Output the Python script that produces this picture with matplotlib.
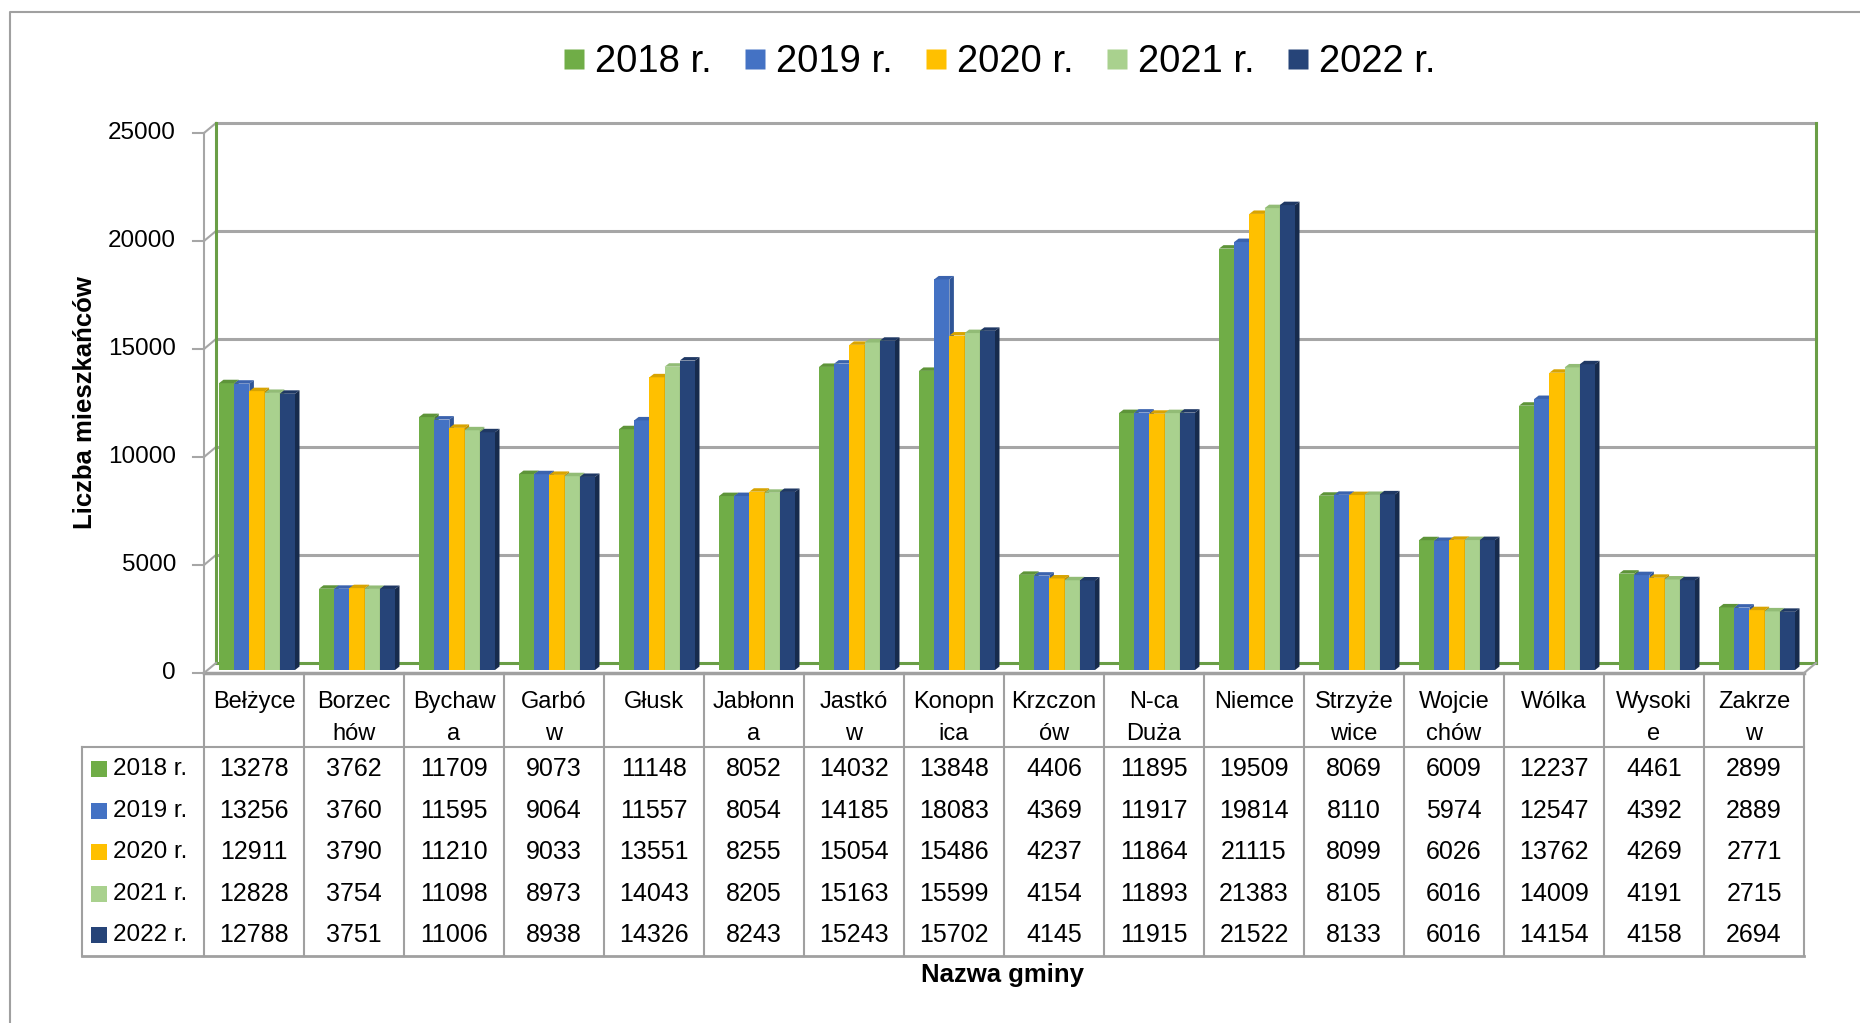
import matplotlib
matplotlib.use("Agg")
import matplotlib.pyplot as plt
from matplotlib.patches import Rectangle, Polygon
from matplotlib.lines import Line2D

plt.rcParams['font.family'] = ['Liberation Sans', 'DejaVu Sans']

# data
gminy = ["Bełżyce", "Borzec\nhów", "Bychaw\na", "Garbó\nw", "Głusk", "Jabłonn\na",
         "Jastkó\nw", "Konopn\nica", "Krzczon\nów", "N-ca\nDuża", "Niemce",
         "Strzyże\nwice", "Wojcie\nchów", "Wólka", "Wysoki\ne", "Zakrze\nw"]
lata = ["2018 r.", "2019 r.", "2020 r.", "2021 r.", "2022 r."]
v2018 = [13278, 3762, 11709, 9073, 11148, 8052, 14032, 13848, 4406, 11895, 19509, 8069, 6009, 12237, 4461, 2899]
v2019 = [13256, 3760, 11595, 9064, 11557, 8054, 14185, 18083, 4369, 11917, 19814, 8110, 5974, 12547, 4392, 2889]
v2020 = [12911, 3790, 11210, 9033, 13551, 8255, 15054, 15486, 4237, 11864, 21115, 8099, 6026, 13762, 4269, 2771]
v2021 = [12828, 3754, 11098, 8973, 14043, 8205, 15163, 15599, 4154, 11893, 21383, 8105, 6016, 14009, 4191, 2715]
v2022 = [12788, 3751, 11006, 8938, 14326, 8243, 15243, 15702, 4145, 11915, 21522, 8133, 6016, 14154, 4158, 2694]
serie = [v2018, v2019, v2020, v2021, v2022]
yticks = [0, 5000, 10000, 15000, 20000, 25000]

kolory = ["#70AD47", "#4472C4", "#FFC000", "#A9D18E", "#264478"]
gora = ["#5E9439", "#3B63AE", "#D9A400", "#92BC76", "#1F3864"]
bok = ["#4E7D30", "#2F5597", "#BF9000", "#7FA866", "#172B4D"]

W, H = 1860, 1023
fig = plt.figure(figsize=(W / 100, H / 100), dpi=100)

# overlay axes in pixel units for table / labels
bg = fig.add_axes([0, 0, 1, 1], zorder=0)
bg.set_xlim(0, W)
bg.set_ylim(H, 0)
bg.axis('off')

# main plot area (front face)
x_left, x_right, y_top, y_zero = 204, 1804, 133, 673
ax = fig.add_axes([x_left / W, 1 - y_zero / H, (x_right - x_left) / W, (y_zero - y_top) / H], zorder=1)
n = len(gminy)
ax.set_xlim(0, n)
ax.set_ylim(0, 25000)
ax.axis('off')

colw = (x_right - x_left) / n
upx = 25000 / (y_zero - y_top)  # data units per pixel
dx = 12 / colw
dy = 10 * upx
grid_c = "#A6A6A6"
green_c = "#6A9E46"

# back wall gridlines
for v in yticks[1:]:
    ax.plot([dx, n + dx], [v + dy, v + dy], color=grid_c, lw=2.2, clip_on=False, zorder=1)
    ax.plot([0, dx], [v, v + dy], color=grid_c, lw=1.5, clip_on=False, zorder=1)
    ax.plot([-0.11, 0], [v, v], color=grid_c, lw=1.5, clip_on=False, zorder=1)
ax.plot([-0.11, 0], [0, 0], color=grid_c, lw=1.5, clip_on=False, zorder=1)
# walls
ax.plot([dx, dx], [dy, 25000 + dy], color=green_c, lw=2.2, clip_on=False, zorder=1)
ax.plot([n + dx, n + dx], [dy, 25000 + dy], color=green_c, lw=2.2, clip_on=False, zorder=1)
ax.plot([dx, n + dx], [dy, dy], color=green_c, lw=2.2, clip_on=False, zorder=1)
ax.plot([0, 0], [0, 25000], color=grid_c, lw=1.5, clip_on=False, zorder=1)
ax.plot([0, dx], [0, dy], color=grid_c, lw=1.5, clip_on=False, zorder=1)
ax.plot([n, n + dx], [0, dy], color=grid_c, lw=1.5, clip_on=False, zorder=1)

for v in yticks:
    ax.text(-0.28, v, str(v), ha='right', va='center', fontsize=17.5, clip_on=False)

# 3D-looking bars (placed slightly into the depth of the box)
bw = 0.152
bdx = 0.045
bdy = 160
base = 3 * upx
z = 3
for i in range(n):
    for j, vals in enumerate(serie):
        v = vals[i] + base
        x0 = i + 0.15 + j * bw
        ax.add_patch(Rectangle((x0, base), bw, vals[i], facecolor=kolory[j], edgecolor='none', zorder=z))
        ax.add_patch(Polygon([(x0, v), (x0 + bdx, v + bdy), (x0 + bw + bdx, v + bdy), (x0 + bw, v)],
                             closed=True, facecolor=gora[j], edgecolor='none', zorder=z))
        ax.add_patch(Polygon([(x0 + bw, base), (x0 + bw + bdx, base + bdy), (x0 + bw + bdx, v + bdy), (x0 + bw, v)],
                             closed=True, facecolor=bok[j], edgecolor='none', zorder=z))
        z += 1

# table
tc = "#A0A0A0"
row_top, head_bot, tab_bot, leg_left = 673, 747, 956, 82
bg.plot([x_left, x_right], [row_top, row_top], color=tc, lw=2.5)
bg.plot([leg_left, x_right], [head_bot, head_bot], color=tc, lw=1.5)
bg.plot([leg_left, x_right], [tab_bot, tab_bot], color=tc, lw=2)
bg.plot([leg_left, leg_left], [head_bot, tab_bot], color=tc, lw=1.5)
for i in range(n + 1):
    xx = x_left + i * colw
    bg.plot([xx, xx], [row_top, tab_bot], color=tc, lw=1.5)

for i, name in enumerate(gminy):
    xc = x_left + (i + 0.5) * colw
    for k, line in enumerate(name.split("\n")):
        bg.text(xc, 702 + k * 32, line, ha='center', va='center', fontsize=17)

row_y = [769, 811, 852, 894, 935]
for j, vals in enumerate(serie):
    bg.add_patch(Rectangle((91, row_y[j] - 8), 16, 16, facecolor=kolory[j], edgecolor='none'))
    bg.text(113, row_y[j], lata[j], ha='left', va='center', fontsize=17.5)
    for i, v in enumerate(vals):
        bg.text(x_left + (i + 0.5) * colw, row_y[j], str(v), ha='center', va='center', fontsize=18)

# axis labels
bg.text(85, 403, "Liczba mieszkańców", rotation=90, ha='center', va='center',
        fontsize=18.5, fontweight='bold')
bg.text(1002, 975, "Nazwa gminy", ha='center', va='center', fontsize=18.5, fontweight='bold')

# outer frame
bg.plot([10, 10, W + 5], [H + 5, 12, 12], color="#A0A0A0", lw=1.5)

# legend
handles = [Line2D([], [], marker='s', linestyle='none', markersize=14,
                  markerfacecolor=c, markeredgecolor='none') for c in kolory]
fig.legend(handles, lata, loc='center', bbox_to_anchor=(1000 / W, 1 - 62 / H), ncol=5,
           frameon=False, fontsize=27.5, handlelength=0.5, handletextpad=0.3,
           columnspacing=0.88)

fig.savefig("out.png", dpi=100)
